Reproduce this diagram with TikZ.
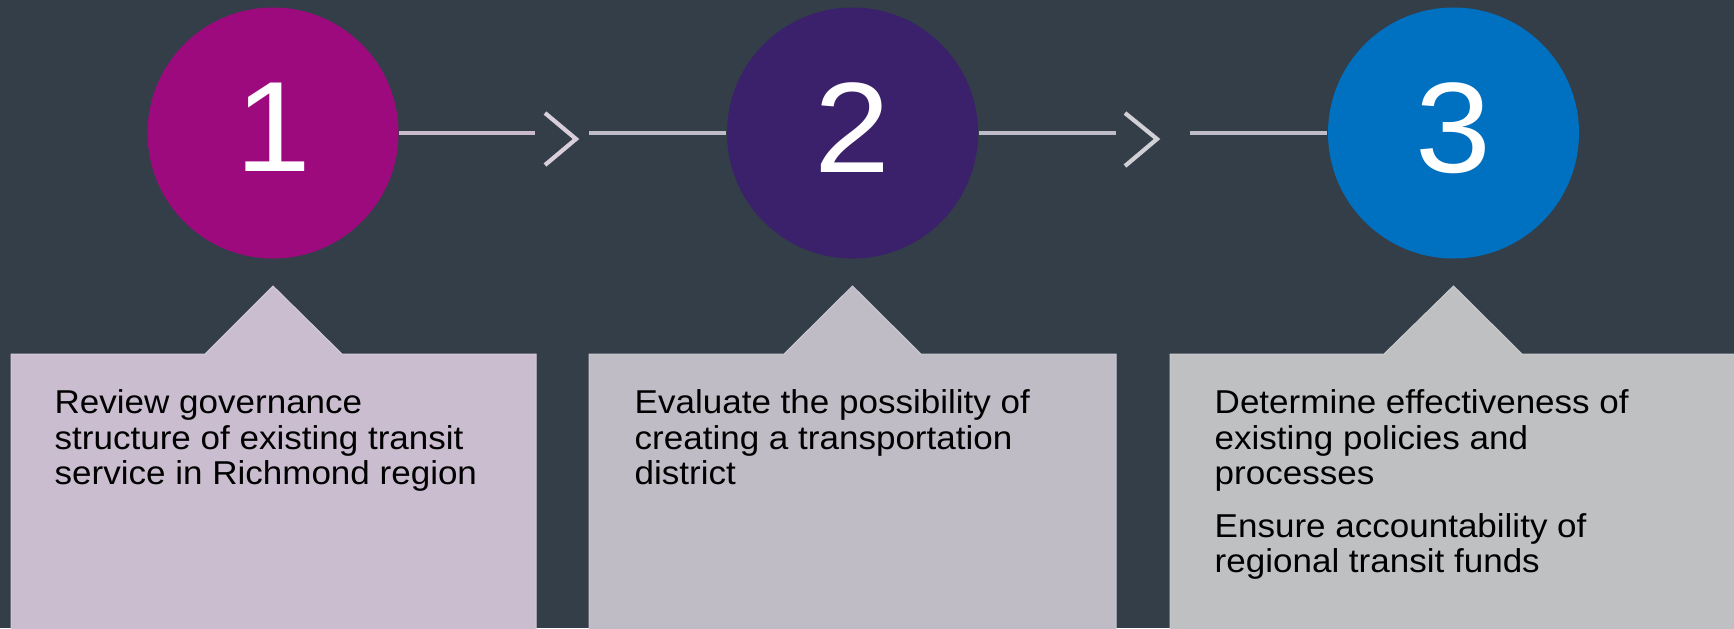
\documentclass[tikz,border=0pt]{standalone}
\usepackage{fontspec}
\setmainfont[FakeStretch=1.06]{Liberation Sans}
\usetikzlibrary{positioning}
\usetikzlibrary{calc}
\definecolor{slate}{HTML}{333E48}
\definecolor{plum}{HTML}{9C0A7D}
\definecolor{grape}{HTML}{3B206B}
\definecolor{azure}{HTML}{0070C0}
\definecolor{lilac}{HTML}{C9BDCF}
\definecolor{lilacedge}{HTML}{D6CCDB}
\definecolor{haze}{HTML}{BFBCC6}
\definecolor{hazeedge}{HTML}{CBC8D1}
\definecolor{ash}{HTML}{BFC0C2}
\definecolor{ashedge}{HTML}{CBCCCE}
\definecolor{lilacline}{HTML}{C9BBCC}
\definecolor{hazeline}{HTML}{BEBCC6}
\tikzset{
 numdisc/.style={circle, minimum size=25.1mm, inner sep=0pt, text=white,
   font=\fontsize{36.6}{40}\selectfont, text depth=1.06mm},
 link/.style={line width=0.38mm},
 chev/.style={line width=0.42mm, line join=miter},
 note/.style={anchor=north west, inner sep=0pt, align=left, text=black,
   font=\fontsize{9.4}{10.13}\selectfont}
}
\begin{document}
\begin{tikzpicture}[x=0.1mm,y=-0.1mm]
\useasboundingbox (0,0) rectangle (1734,628);
\clip (0,0) rectangle (1734,628);
\path[fill=slate] (0,0) rectangle (1734,628);

% the three steps
\path (273,133) node[numdisc,fill=plum,name=s1] {1};
\path (852.5,133) node[numdisc,fill=grape,name=s2] {2};
\path (1453.5,133) node[numdisc,fill=azure,name=s3] {3};

\coordinate (g1) at (535,133);
\coordinate (h1) at (589,133);
\coordinate (g2) at (1116,133);
\coordinate (h2) at (1190,133);

\path[link,draw=lilacline] (s1) edge (g1);
\path[link,draw=hazeline] (h1) edge (s2);
\path[link,draw=hazeline] (s2) edge (g2);
\path[link,draw=hazeline] (h2) edge (s3);

\draw[chev,draw=lilacline!70!white] (545,113) -- (576,139) -- (545,165);
\draw[chev,draw=hazeline!70!white] (1125,113) -- (1157,139) -- (1125,166);

% callout boxes
\path[fill=lilac,draw=lilacedge,line width=0.1mm] (11,354) -- (205,354) -- (273,286) -- (342,354)
  -- (536,354) -- (536,640) -- (11,640) -- cycle;
\path[fill=haze,draw=hazeedge,line width=0.1mm] (589,354) -- (784,354) -- (852.5,286) -- (921,354)
  -- (1116,354) -- (1116,640) -- (589,640) -- cycle;
\path[fill=ash,draw=ashedge,line width=0.1mm] (1170,354) -- (1384,354) -- (1453.5,286) -- (1522,354)
  -- (1745,354) -- (1745,640) -- (1170,640) -- cycle;

\path (54,389) node[note,name=t1] {Review governance\\structure of existing transit\\service in Richmond region};
\path (634,389) node[note,name=t2] {Evaluate the possibility of\\creating a transportation\\district};
\path (1214,389) node[note,name=t3] {Determine effectiveness of\\existing policies and\\processes\\[4.8pt]Ensure accountability of\\regional transit funds};

\end{tikzpicture}
\end{document}
